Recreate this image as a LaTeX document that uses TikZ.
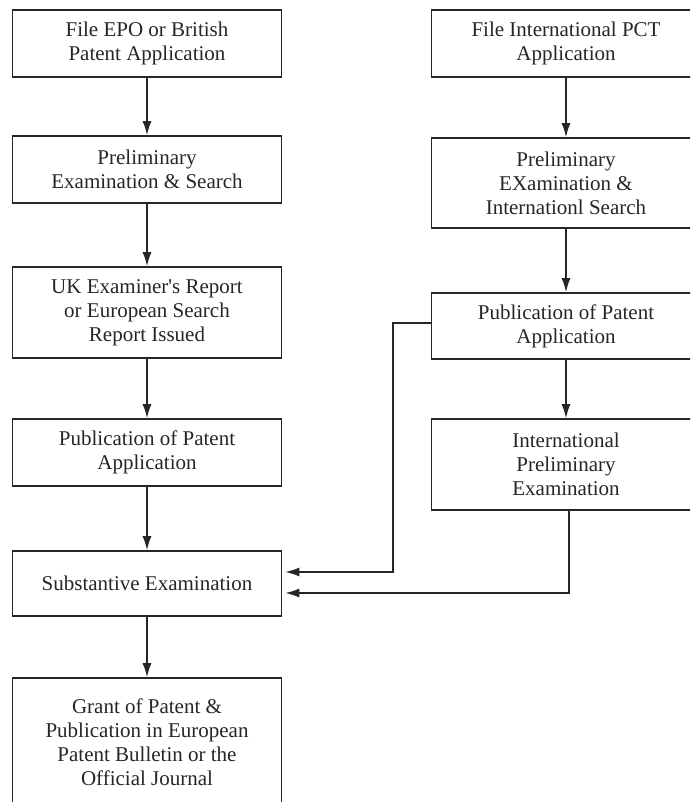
\documentclass[tikz,border=0pt]{standalone}
\usepackage{fontspec}
\setmainfont{Liberation Serif}
\usetikzlibrary{arrows.meta}
\begin{document}
\begin{tikzpicture}[x=1pt,y=-1pt,
  box/.style={draw=black!85, line width=1.6pt, align=center, inner sep=0pt,
    font=\fontsize{21}{24}\selectfont, text=black!85, minimum width=269pt},
  arr/.style={draw=black!85, line width=1.5pt, -{Latex[length=14pt,width=9pt]}}]
\useasboundingbox (0,0) rectangle (690,802);
\clip (0,0) rectangle (690,802);
\fill[white] (0,0) rectangle (690,802);
% left column
\node[box, minimum height=67pt] (b1) at (147,43.5) {File EPO or British\\Patent Application};
\node[box, minimum height=67pt] (b2) at (147,169.5) {Preliminary\\Examination \& Search};
\node[box, minimum height=91pt] (b3) at (147,312.5) {UK Examiner\textquotesingle s Report\\or European Search\\Report Issued};
\node[box, minimum height=67pt] (b4) at (147,452.5) {Publication of Patent\\Application};
\node[box, minimum height=65pt] (b5) at (147,583.5) {Substantive Examination};
\node[box, minimum height=128pt] (b6) at (147,742) {Grant of Patent \&\\Publication in European\\Patent Bulletin or the\\Official Journal};
% right column
\node[box, minimum height=67pt] (r1) at (566,43.5) {File International PCT\\Application};
\node[box, minimum height=90pt] (r2) at (566,183) {Preliminary\\EXamination \&\\Internationl Search};
\node[box, minimum height=66pt] (r3) at (566,326) {Publication of Patent\\Application};
\node[box, minimum height=91pt] (r4) at (566,464.5) {International\\Preliminary\\Examination};
% arrows
\draw[arr] (b1) -- (b2);
\draw[arr] (b2) -- (b3);
\draw[arr] (b3) -- (b4);
\draw[arr] (b4) -- (b5);
\draw[arr] (b5) -- (b6);
\draw[arr] (r1) -- (r2);
\draw[arr] (r2) -- (r3);
\draw[arr] (r3) -- (r4);
\coordinate (c1) at (393,572);
\coordinate (c2) at (569,593);
\draw[arr] (r3.west |- 0,323) -| (c1) -- ([xshift=3pt]b5.east |- c1);
\draw[arr] (r4.south -| c2) -- (c2) -- ([xshift=3pt]b5.east |- c2);
\end{tikzpicture}
\end{document}
